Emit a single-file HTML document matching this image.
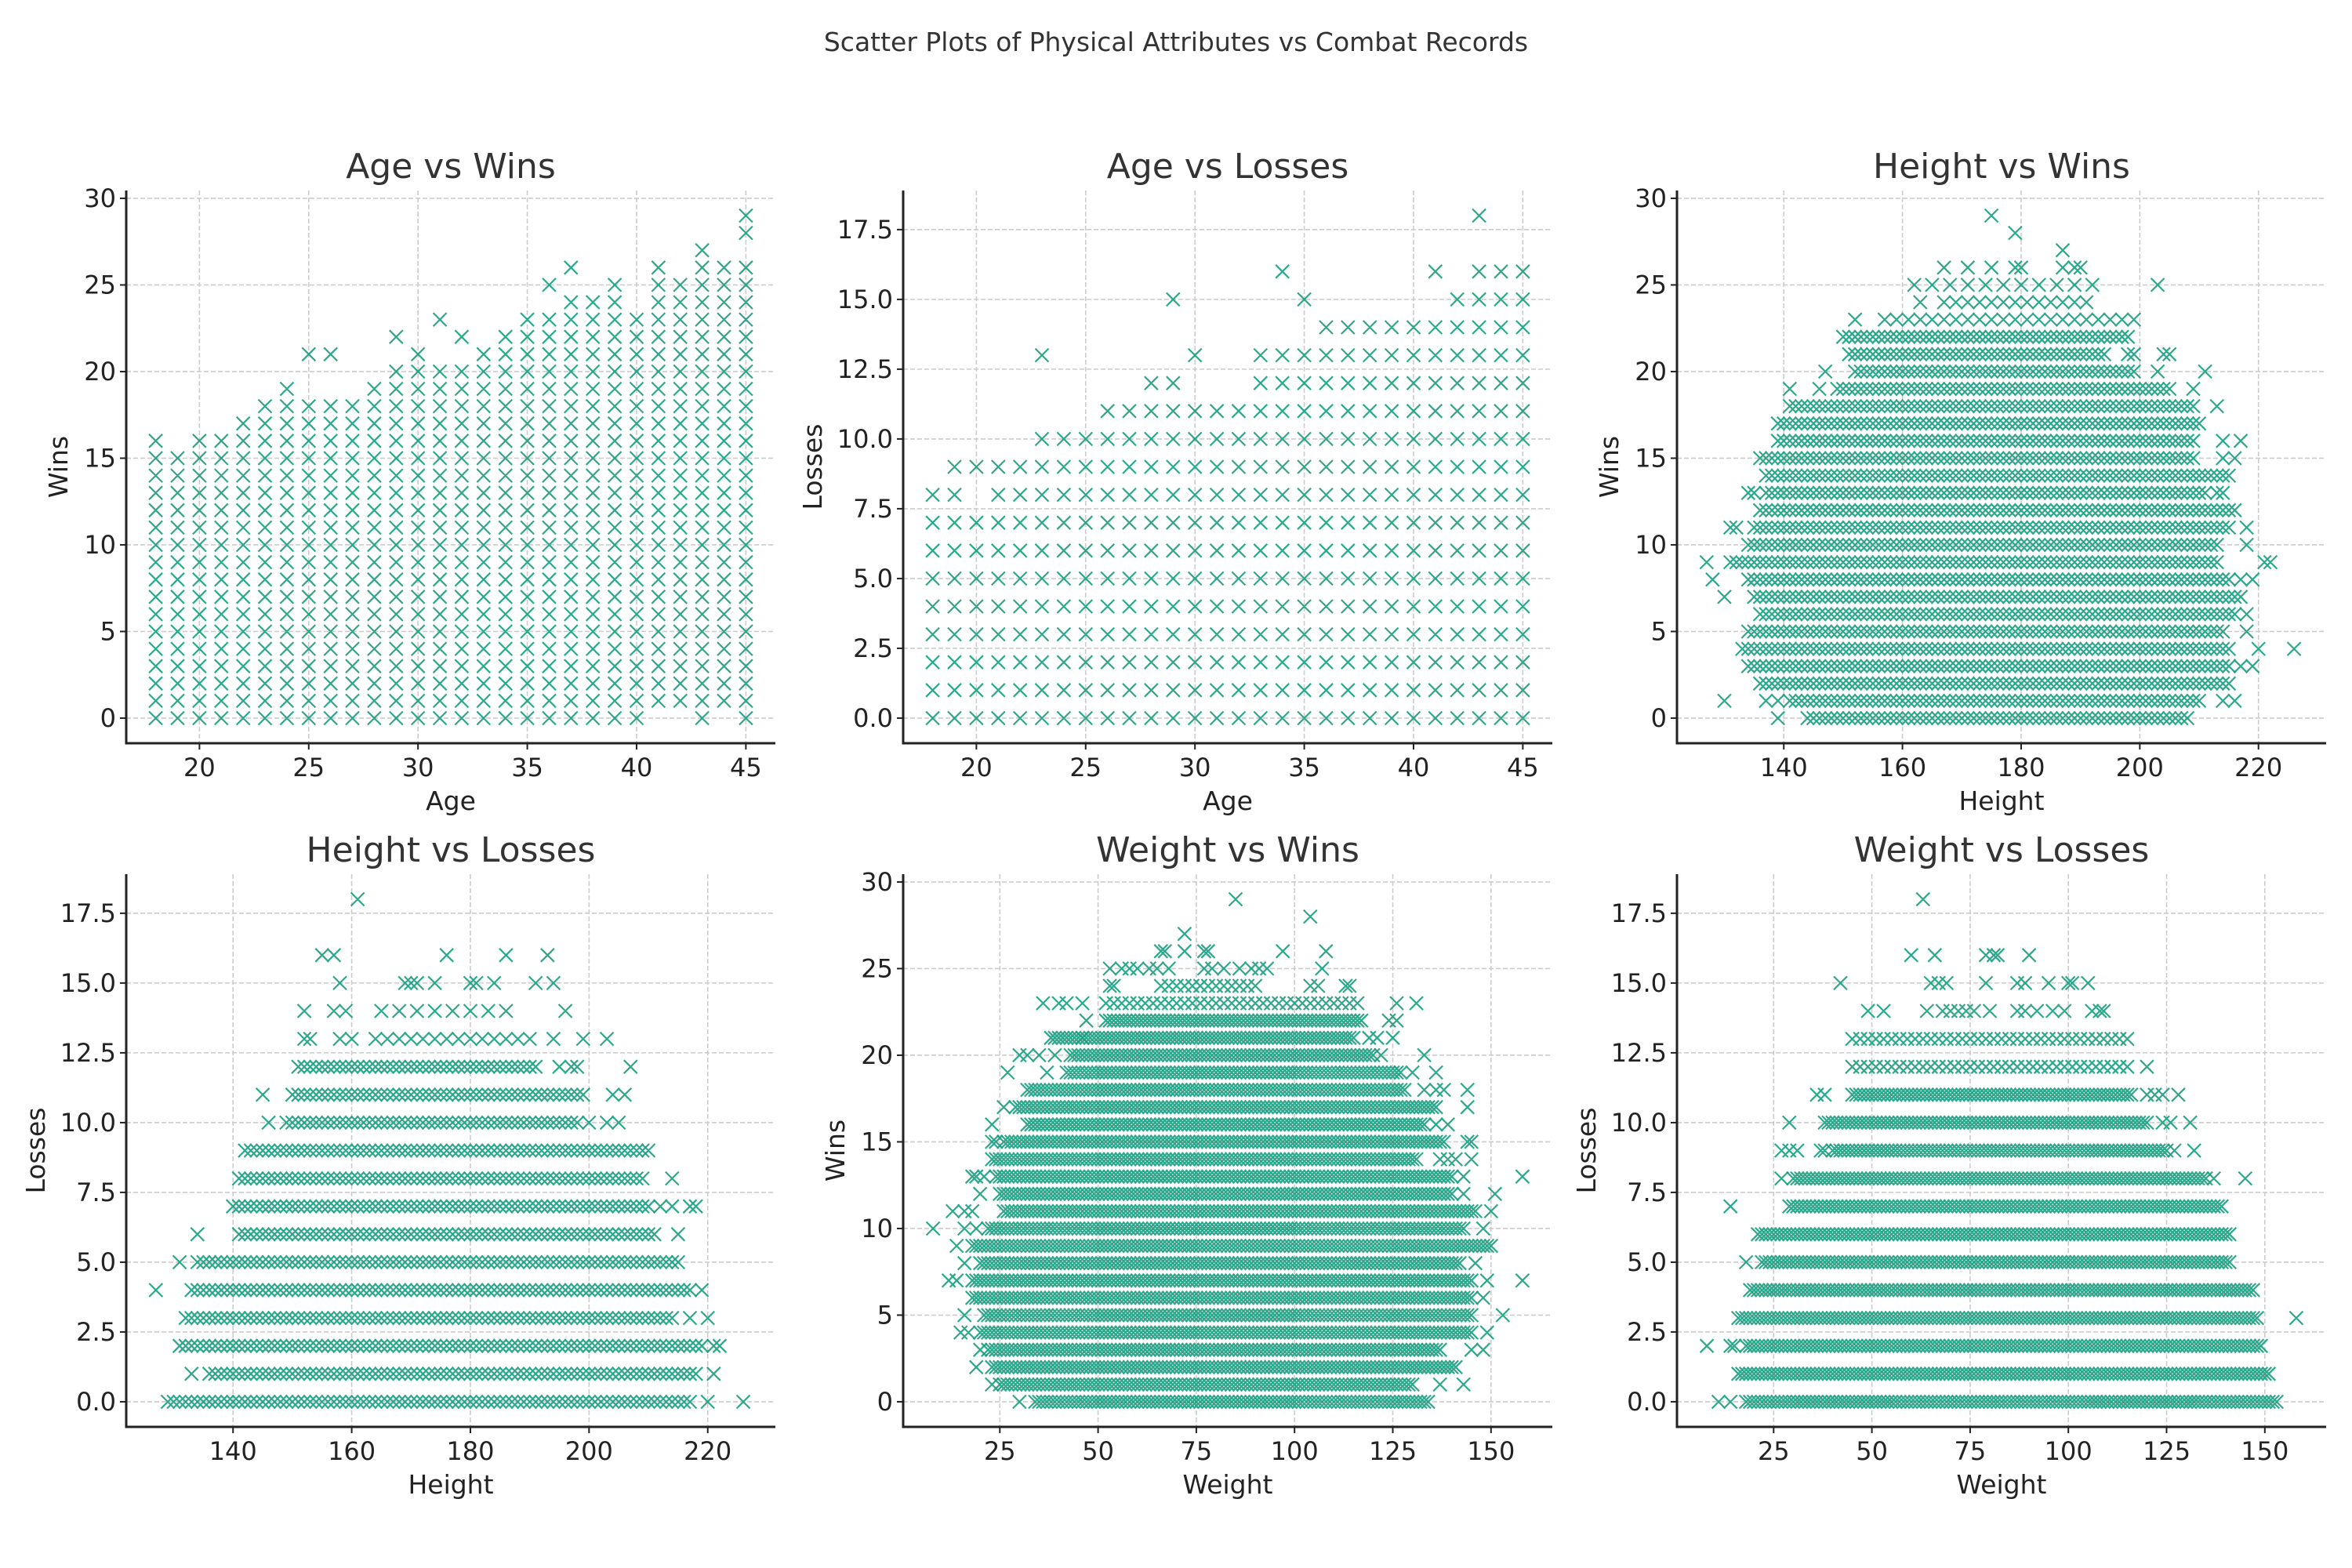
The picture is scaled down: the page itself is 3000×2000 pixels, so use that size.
<!DOCTYPE html>
<html><head><meta charset="utf-8"><style>
html,body{margin:0;padding:0;background:#fff;}
svg{display:block;font-family:"DejaVu Sans","Liberation Sans",sans-serif;}
</style></head><body>
<svg id="fig" width="3000" height="2000" viewBox="0 0 3000 2000" xmlns="http://www.w3.org/2000/svg">
<rect width="3000" height="2000" fill="#fff"/>
<text x="1500" y="65" text-anchor="middle" font-size="33" fill="#333">Scatter Plots of Physical Attributes vs Combat Records</text>
</svg>
<script>
// ---------- DATA ----------
const p1Ages=[18,19,20,21,22,23,24,25,26,27,28,29,30,31,32,33,34,35,36,37,38,39,40,41,42,43,44,45];
const p1Min =[0,0,0,0,0,0,0,0,0,0,0,0,0,0,0,0,0,0,0,0,0,0,0,1,1,0,1,0];
const p1Max =[16,15,16,16,17,18,19,18,18,18,19,20,21,20,20,21,22,23,23,24,24,25,23,26,25,27,26,26];
const p1ExtraX=[25,26,29,31,32,36,37,45,45];
const p1ExtraY=[21,21,22,23,22,25,26,28,29];
const p2Ages=p1Ages;
const p2Min =[0,0,0,0,0,0,0,0,0,0,0,0,0,0,0,0,0,0,0,0,0,0,0,0,0,0,0,0];
const p2Max =[8,9,7,9,9,10,10,10,11,11,12,12,11,11,11,13,13,13,14,14,14,14,14,14,15,16,16,16];
const p2ExtraX=[20,23,29,30,34,35,41,43];
const p2ExtraY=[9,13,15,13,16,15,16,18];
const p3Levels=[0,1,2,3,4,5,6,7,8,9,10,11,12,13,14,15,16,17,18,19,20,21,22,23,24,25];
const p3From =[144,141,136,134,133,134,136,135,134,131,134,135,136,137,137,136,139,139,141,149,152,151,150,157,167,162];
const p3To   =[208,210,215,215,215,214,216,217,215,213,213,215,216,211,215,209,209,210,209,205,199,194,198,200,191,192];
const p3Step =[1,1,1,1,1,1,1,1,1,1,1,1,1,1,1,1,1,1,1,1,1,1,1,2,2,3];
const p3OutX=[139,130,137,139,214,216,217,219,220,226,218,218,130,128,217,219,127,221,222,218,131,132,218,134,135,213,214,214,216,214,217,213,141,146,209,147,203,211,198,199,204,205,152,163,203,167,171,175,179,180,187,189,190,187,179,175];
const p3OutY=[0,1,1,1,1,1,3,3,4,4,5,6,7,8,8,8,9,9,9,10,11,11,11,13,13,13,13,15,15,16,16,18,19,19,19,20,20,20,21,21,21,21,23,24,25,26,26,26,26,26,26,26,26,27,28,29];
const p4Levels=[0,1,2,3,4,5,6,7,8,9,10,11,12,13,14];
const p4From =[129,136,131,132,133,134,141,140,141,142,149,150,151,164,165];
const p4To   =[217,218,219,214,217,214,211,210,209,209,198,199,191,191,188];
const p4Step =[1,1,1,1,1,1,1,1,1,1,1,1,1,2,3];
const p4OutX=[220,226,133,221,221,222,217,220,127,219,131,215,134,215,212,214,217,218,214,210,146,200,203,205,145,204,206,195,197,198,207,152,153,158,160,194,199,203,152,157,159,196,158,169,170,171,174,180,181,184,191,194,155,157,176,186,193,161];
const p4OutY=[0,0,1,1,2,2,3,3,4,4,5,5,6,6,7,7,7,7,8,9,10,10,10,10,11,11,11,12,12,12,12,13,13,13,13,13,13,13,14,14,14,14,15,15,15,15,15,15,15,15,15,15,16,16,16,16,16,18];
const p5Levels=[0,1,2,3,4,5,6,7,8,9,10,11,12,13,14,15,16,17,18,19,20,21,22,23,24];
const p5From =[34,25,23,22,20,21,18,18,20,18,22,26,25,24,23,26,32,29,32,42,43,38,52,52,66];
const p5To   =[134,130,141,137,145,145,145,145,142,150,143,146,140,140,131,138,133,136,128,126,120,115,117,116,90];
const p5Step =[1,1,1,1,1,1,1,1,1,1,1,1,1,1,1,1,1,1,1,1,1,1,1,2,2];
const p5OutX=[30,23,137,143,19,20,145,148,15,17,149,16,153,148,12,14,149,158,16,146,14,8,16,19,148,13,16,18,150,20,143,151,18,19,21,143,158,137,139,141,145,23,24,144,145,23,136,139,26,144,133,136,138,144,27,37,127,130,136,30,32,35,39,122,133,46,119,121,125,47,124,126,36,40,42,46,126,131,53,54,104,106,113,114,53,56,58,60,63,65,68,77,79,82,86,89,91,93,107,66,67,72,77,78,97,108,72,104,85];
const p5OutY=[0,1,1,1,2,3,3,3,4,4,4,5,5,6,7,7,7,7,8,8,9,10,10,10,10,11,11,11,11,12,12,12,13,13,13,13,13,14,14,14,14,15,15,15,15,16,16,16,17,17,18,18,18,18,19,19,19,19,19,20,20,20,20,20,20,21,21,21,21,22,22,22,23,23,23,23,23,23,24,24,24,24,24,24,25,25,25,25,25,25,25,25,25,25,25,25,25,25,25,26,26,26,26,26,26,26,27,28,29];
const p6Levels=[0,1,2,3,4,5,6,7,8,9,10,11,12,13];
const p6From =[18,16,18,16,19,22,21,29,30,40,38,45,45,45];
const p6To   =[153,151,149,148,147,141,141,139,135,125,120,116,115,113];
const p6Step =[1,1,1,1,1,1,1,1,1,1,1,1,2,2];
const p6OutX=[11,14,8,14,15,158,18,14,27,137,145,27,29,31,37,38,127,132,29,124,126,131,36,38,120,122,124,128,120,115,49,53,64,68,70,72,74,76,80,87,89,92,96,99,106,108,109,42,65,67,69,79,87,89,95,100,101,105,60,66,79,81,82,90,63];
const p6OutY=[0,0,2,2,2,3,5,7,8,8,8,9,9,9,9,9,9,9,10,10,10,10,11,11,11,11,11,11,12,13,14,14,14,14,14,14,14,14,14,14,14,14,14,14,14,14,14,15,15,15,15,15,15,15,15,15,15,15,16,16,16,16,16,16,18];

const ageTicks=[20,25,30,35,40,45];
const winTicks=[0,5,10,15,20,25,30];
const lossTicks=[0,2.5,5,7.5,10,12.5,15,17.5];
const heightTicks=[140,160,180,200,220];
const weightTicks=[25,50,75,100,125,150];

// ---------- RENDER ----------
const NS="http://www.w3.org/2000/svg";
const svg=document.getElementById('fig');
const COLOR="#169e7e";
const PW=828, PH=705;
function mk(tag,attrs,parent){const e=document.createElementNS(NS,tag);for(const k in attrs)e.setAttribute(k,attrs[k]);(parent||svg).appendChild(e);return e;}

function panel(cfg){
  const g=mk('g',{});
  
  
  const L=cfg.left,R=cfg.left+PW,T=cfg.top,B=cfg.top+PH;
  const sx=v=>L+(v-cfg.xd[0])/(cfg.xd[1]-cfg.xd[0])*(R-L);
  const sy=v=>B-(v-cfg.yd[0])/(cfg.yd[1]-cfg.yd[0])*(B-T);
  cfg.xt.forEach(t=>{const l=mk('line',{x1:sx(t),x2:sx(t),y1:T,y2:B,stroke:'#cccccc','stroke-width':1.6,'stroke-dasharray':'6,3'},g);
    
    });
  cfg.yt.forEach(t=>{const l=mk('line',{x1:L,x2:R,y1:sy(t),y2:sy(t),stroke:'#cccccc','stroke-width':1.6,'stroke-dasharray':'6,3'},g);
    
    });
  const d=8.5;
  const mark=(x,y)=>{const X=sx(x),Y=sy(y);return `M${(X-d).toFixed(1)} ${(Y-d).toFixed(1)}L${(X+d).toFixed(1)} ${(Y+d).toFixed(1)}M${(X-d).toFixed(1)} ${(Y+d).toFixed(1)}L${(X+d).toFixed(1)} ${(Y-d).toFixed(1)}`;};
  cfg.series.forEach(s=>{
    const p=mk('path',{d:s.d(mark),fill:'none',stroke:COLOR,'stroke-width':2.2,'stroke-opacity':0.9},g);
    
    
  });
  const sp1=mk('line',{x1:L,x2:L,y1:T,y2:B+1.5,stroke:'#222','stroke-width':3},g);
  
  
  const sp2=mk('line',{x1:L-1.5,x2:R,y1:B,y2:B,stroke:'#222','stroke-width':3},g);
  
  
  cfg.xt.forEach(t=>{
    const tk=mk('line',{x1:sx(t),x2:sx(t),y1:B,y2:B+8,stroke:'#222','stroke-width':2},g);
    
    
    const tx=mk('text',{x:sx(t),y:B+42,'text-anchor':'middle','font-size':32,fill:'#222'},g);
    tx.textContent=String(t);
    
    
  });
  cfg.yt.forEach(t=>{
    const tk=mk('line',{x1:L-8,x2:L,y1:sy(t),y2:sy(t),stroke:'#222','stroke-width':2},g);
    
    
    const tx=mk('text',{x:L-13,y:sy(t)+11,'text-anchor':'end','font-size':32,fill:'#222'},g);
    tx.textContent=cfg.yfmt(t);
    
    
  });
  const ti=mk('text',{x:(L+R)/2,y:T-16,'text-anchor':'middle','font-size':44,fill:'#333'},g);
  ti.textContent=cfg.title;
  
  
  const xl=mk('text',{x:(L+R)/2,y:B+85,'text-anchor':'middle','font-size':33,fill:'#222'},g);
  xl.textContent=cfg.xlabel;
  
  
  const yx=L-cfg.ylOff, yy=(T+B)/2;
  const yl=mk('text',{x:yx,y:yy,'text-anchor':'middle','font-size':33,fill:'#222',transform:`rotate(-90 ${yx} ${yy})`,dy:11},g);
  yl.textContent=cfg.ylabel;
  
  
}

function gridSeries(xs,mins,maxs,ex,ey){
  return [{name:'points-grid',d:m=>{let s='';xs.forEach((x,i)=>{for(let y=mins[i];y<=maxs[i];y++)s+=m(x,y);});return s;}},
          {name:'points-outliers',d:m=>ex.map((x,i)=>m(x,ey[i])).join('')}];
}
function bandSeries(levels,from,to,step,ox,oy){
  return [{name:'points-bands',d:m=>{let s='';levels.forEach((y,i)=>{for(let x=from[i];x<=to[i];x+=step[i])s+=m(x,y);});return s;}},
          {name:'points-outliers',d:m=>ox.map((x,i)=>m(x,oy[i])).join('')}];
}
const intf=t=>String(t), decf=t=>t.toFixed(1);
const ageD=[16.65,46.35], winD=[-1.45,30.45], lossD=[-0.9,18.9], hD=[122.0,231.4], wD=[0.4,165.6];

panel({name:'age-vs-wins-panel',left:161,top:243,xd:ageD,yd:winD,xt:ageTicks,yt:winTicks,yfmt:intf,title:'Age vs Wins',xlabel:'Age',ylabel:'Wins',ylOff:86,
  series:gridSeries(p1Ages,p1Min,p1Max,p1ExtraX,p1ExtraY)});
panel({name:'age-vs-losses-panel',left:1152,top:243,xd:ageD,yd:lossD,xt:ageTicks,yt:lossTicks,yfmt:decf,title:'Age vs Losses',xlabel:'Age',ylabel:'Losses',ylOff:115,
  series:gridSeries(p2Ages,p2Min,p2Max,p2ExtraX,p2ExtraY)});
panel({name:'height-vs-wins-panel',left:2139,top:243,xd:hD,yd:winD,xt:heightTicks,yt:winTicks,yfmt:intf,title:'Height vs Wins',xlabel:'Height',ylabel:'Wins',ylOff:86,
  series:bandSeries(p3Levels,p3From,p3To,p3Step,p3OutX,p3OutY)});
panel({name:'height-vs-losses-panel',left:161,top:1115,xd:hD,yd:lossD,xt:heightTicks,yt:lossTicks,yfmt:decf,title:'Height vs Losses',xlabel:'Height',ylabel:'Losses',ylOff:115,
  series:bandSeries(p4Levels,p4From,p4To,p4Step,p4OutX,p4OutY)});
panel({name:'weight-vs-wins-panel',left:1152,top:1115,xd:wD,yd:winD,xt:weightTicks,yt:winTicks,yfmt:intf,title:'Weight vs Wins',xlabel:'Weight',ylabel:'Wins',ylOff:86,
  series:bandSeries(p5Levels,p5From,p5To,p5Step,p5OutX,p5OutY)});
panel({name:'weight-vs-losses-panel',left:2139,top:1115,xd:wD,yd:lossD,xt:weightTicks,yt:lossTicks,yfmt:decf,title:'Weight vs Losses',xlabel:'Weight',ylabel:'Losses',ylOff:115,
  series:bandSeries(p6Levels,p6From,p6To,p6Step,p6OutX,p6OutY)});
</script>
</body></html>
